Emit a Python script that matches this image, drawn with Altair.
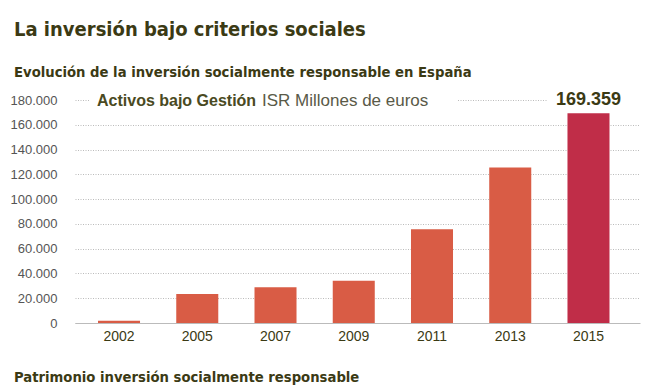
import altair as alt
import pandas as pd

years = ["2002", "2005", "2007", "2009", "2011", "2013", "2015"]
values = [1800, 23400, 28800, 34100, 75600, 125600, 169359]
group = ["base", "base", "base", "base", "base", "base", "last"]
y_ticks = [0, 20000, 40000, 60000, 80000, 100000, 120000, 140000, 160000, 180000]

title = "La inversión bajo criterios sociales"
subtitle = "Evolución de la inversión socialmente responsable en España"
footer = "Patrimonio inversión socialmente responsable"
legend_bold = "Activos bajo Gestión"
legend_reg = "ISR Millones de euros"

df = pd.DataFrame({"year": years, "value": values, "group": group})
one = pd.DataFrame({"k": [0]})

FONT = "DejaVu Sans Condensed, sans-serif"
FONT_R = "Liberation Sans, Arial, Helvetica, sans-serif"
DARK = "#3b3a14"
W, H = 565, 223

bars = alt.Chart(df).mark_bar().encode(
    x=alt.X("year:N", sort=None,
            scale=alt.Scale(paddingInner=0.463, paddingOuter=0.342, align=0.43),
            axis=alt.Axis(title=None, labelAngle=0, ticks=False, domainColor="#bbbbbb",
                          labelFont=FONT_R, labelFontSize=14, labelColor=DARK, labelPadding=6)),
    y=alt.Y("value:Q", scale=alt.Scale(domain=[0, 180000], nice=False),
            axis=alt.Axis(values=y_ticks, title=None, ticks=False, domain=False,
                          gridDash=[1, 1.5], gridColor="#bbbbbb",
                          labelExpr="replace(format(datum.value, ','), ',', '.')",
                          labelPadding=18, labelFont=FONT_R, labelFontSize=13, labelColor="#555555")),
    color=alt.Color("group:N", scale=alt.Scale(domain=["base", "last"], range=["#D95C45", "#C02D48"]),
                    legend=None),
)

mask1 = alt.Chart(one).mark_rect(color="white").encode(
    x=alt.value(15), x2=alt.value(382), y=alt.value(-9), y2=alt.value(9))
mask2 = alt.Chart(one).mark_rect(color="white").encode(
    x=alt.value(473), x2=alt.value(570), y=alt.value(-12), y2=alt.value(9))

leg1 = alt.Chart(one).mark_text(align="left", baseline="alphabetic", font=FONT_R, fontSize=16,
                                fontWeight="bold", color="#4a4a22").encode(
    x=alt.value(22), y=alt.value(6), text=alt.value(legend_bold))
leg2 = alt.Chart(one).mark_text(align="left", baseline="alphabetic", font=FONT_R, fontSize=17,
                                color="#5a5a48").encode(
    x=alt.value(187), y=alt.value(6), text=alt.value(legend_reg))

top_label = alt.Chart(df).transform_filter(alt.datum.group == "last").transform_calculate(
    lbl="replace(format(datum.value, ','), ',', '.')"
).mark_text(baseline="alphabetic", font=FONT_R, fontSize=18, fontWeight="bold", color=DARK).encode(
    x=alt.X("year:N", sort=None), y=alt.value(5), text="lbl:N")

t1 = alt.Chart(one).mark_text(align="left", baseline="alphabetic", font=FONT, fontSize=20,
                              fontWeight="bold", color=DARK).encode(
    x=alt.value(-61), y=alt.value(-64), text=alt.value(title))
t2 = alt.Chart(one).mark_text(align="left", baseline="alphabetic", font=FONT, fontSize=14.7,
                              fontWeight="bold", color=DARK).encode(
    x=alt.value(-61), y=alt.value(-23), text=alt.value(subtitle))
t3 = alt.Chart(one).mark_text(align="left", baseline="alphabetic", font=FONT, fontSize=14.7,
                              fontWeight="bold", color=DARK).encode(
    x=alt.value(-61), y=alt.value(282), text=alt.value(footer))

chart = alt.layer(bars, mask1, mask2, leg1, leg2, top_label, t1, t2, t3).properties(
    width=W, height=H,
    autosize=alt.AutoSizeParams(type="none"),
    padding={"left": 67, "top": 92, "right": 16, "bottom": 68},
).configure_view(stroke=None)

chart.save("out.html", embed_options={"renderer": "svg", "actions": False})
